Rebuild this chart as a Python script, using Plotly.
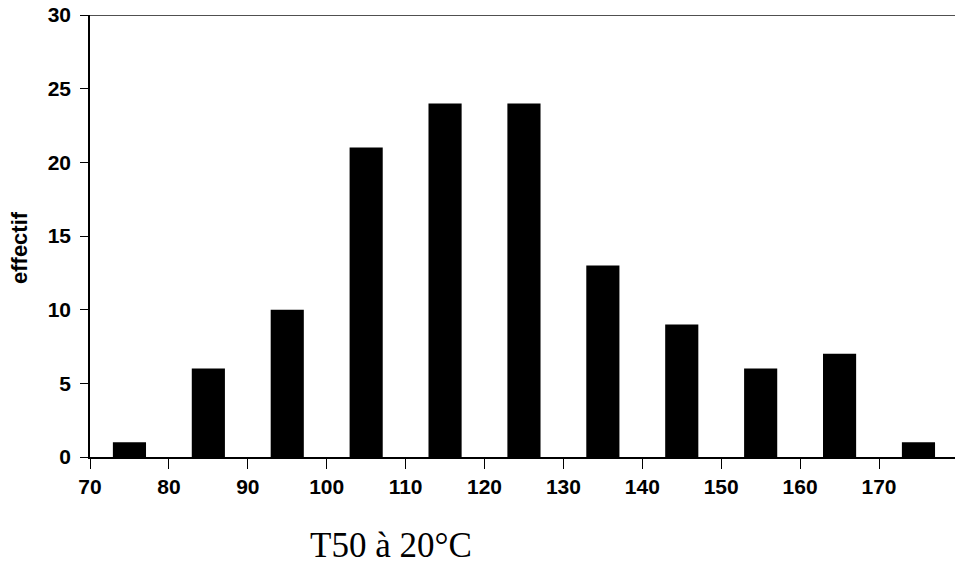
import plotly.graph_objects as go

bin_centers = [75, 85, 95, 105, 115, 125, 135, 145, 155, 165, 175]
counts = [1, 6, 10, 21, 24, 24, 13, 9, 6, 7, 1]
x_ticks = [70, 80, 90, 100, 110, 120, 130, 140, 150, 160, 170]
y_ticks = [0, 5, 10, 15, 20, 25, 30]

fig = go.Figure()
fig.add_trace(go.Bar(x=bin_centers, y=counts, width=4.2,
                     marker=dict(color="black", line=dict(width=0))))

tick_font = dict(family="Liberation Sans, Arial, sans-serif", size=21, color="black")

PLOT_W = 865.0
PLOT_H = 442.0

fig.update_layout(
    width=955, height=570,
    margin=dict(l=90, r=0, t=15, b=113),
    paper_bgcolor="white", plot_bgcolor="white",
    showlegend=False,
    xaxis=dict(range=[70, 179.63], tickvals=x_ticks, ticktext=[f"<b>{v}</b>" for v in x_ticks],
               showline=True, linecolor="black", linewidth=1.5,
               ticks="outside", ticklen=10, tickcolor="black", tickwidth=1.2,
               showgrid=False, zeroline=False, tickfont=tick_font,
               ticklabeloverflow="allow"),
    yaxis=dict(range=[0, 30], tickvals=y_ticks, ticktext=[f"<b>{v}</b>" for v in y_ticks],
               showline=True, linecolor="black", linewidth=1.5,
               ticks="outside", ticklen=8, tickcolor="black", tickwidth=1.2,
               showgrid=False, zeroline=False, tickfont=tick_font,
               ticklabeloverflow="allow", ticklabelstandoff=5),
    shapes=[dict(type="line", xref="paper", yref="y", x0=0, x1=1, y0=30, y1=30,
                 line=dict(color="#505050", width=2.2))],
    annotations=[
        dict(text="<b>effectif</b>", xref="paper", yref="paper", x=(19 - 90) / PLOT_W, y=(457 - 248) / PLOT_H,
             textangle=-90, showarrow=False, xanchor="center", yanchor="middle",
             font=dict(family="Liberation Sans, Arial, sans-serif", size=22, color="black")),
        dict(text="T50 à 20°C", xref="paper", yref="paper", x=(391 - 90) / PLOT_W, y=-(545 - 457) / PLOT_H,
             showarrow=False, xanchor="center", yanchor="middle",
             font=dict(family="Liberation Serif, Times New Roman, serif", size=35, color="black")),
    ],
)

fig.write_html("out.html", config={"displayModeBar": False},
               post_script="document.body.style.margin='0px';document.body.style.overflow='hidden';")
